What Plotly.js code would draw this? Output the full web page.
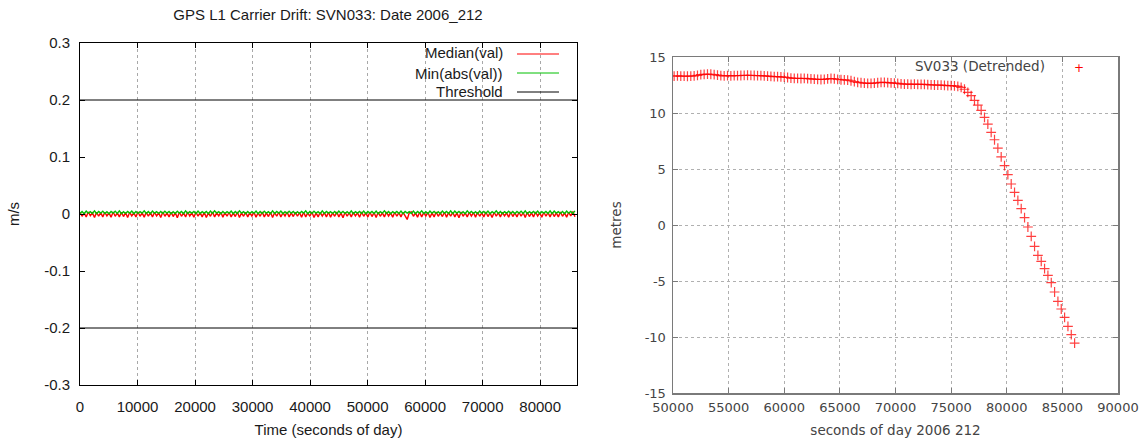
<!DOCTYPE html>
<html>
<head>
<meta charset="utf-8">
<script src="https://cdn.plot.ly/plotly-3.0.1.min.js"></script>
<style>
  html, body { margin: 0; padding: 0; background: #ffffff; }
  #chart { width: 1146px; height: 441px; }
</style>
</head>
<body>
<div id="chart"></div>
<script>
// ---------------- Left panel: GPS L1 carrier drift (m/s) ----------------
const driftStartSec = 0;       // first sample, seconds of day
const driftStepSec = 360;      // sampling interval of the arrays below

const medianVal = [
  0.003,-0.004,0.002,-0.005,0.0035,-0.003,0.002,-0.006,0.003,-0.004,
  0.0025,-0.005,0.003,-0.0035,0.002,-0.0055,0.0035,-0.004,0.002,-0.005,
  0.003,-0.0045,0.0025,-0.006,0.003,-0.0035,0.002,-0.005,0.0035,-0.004,
  0.002,-0.0055,0.003,-0.004,0.0025,-0.005,0.003,-0.0035,0.002,-0.006,
  0.0035,-0.004,0.002,-0.005,0.003,-0.0045,0.0025,-0.0065,0.003,-0.004,
  0.002,-0.005,0.0035,-0.0035,0.002,-0.0055,0.003,-0.004,0.0025,-0.005,
  0.003,-0.006,0.002,-0.004,0.0035,-0.005,0.002,-0.0035,0.003,-0.0055,
  0.0025,-0.004,0.003,-0.005,0.002,-0.0045,0.0035,-0.006,0.002,-0.004,
  0.003,-0.005,0.0025,-0.0035,0.003,-0.0055,0.002,-0.004,0.0035,-0.005,
  0.002,-0.0045,0.003,-0.006,0.0025,-0.004,0.003,-0.005,0.002,-0.0035,
  0.0035,-0.005,0.002,-0.0045,0.003,-0.004,0.0025,-0.0055,0.003,-0.005,
  0.002,-0.004,0.0035,-0.006,0.002,-0.005,0.003,-0.0035,0.0025,-0.005,
  0.003,-0.0055,0.002,-0.004,0.0035,-0.005,0.002,-0.0065,0.003,-0.004,
  0.0025,-0.005,0.003,-0.0035,0.002,-0.0055,0.0035,-0.004,0.002,-0.005,
  0.003,-0.0045,0.0025,-0.006,0.003,-0.004,0.002,-0.005,0.0035,-0.0035,
  0.002,-0.0055,0.003,-0.004,0.0025,-0.005,0.003,-0.0045,-0.0095,0.002,
  0.0035,-0.004,0.002,-0.0055,0.003,-0.005,0.0025,-0.0035,0.003,-0.006,
  0.002,-0.005,0.0035,-0.004,0.002,-0.0045,0.003,-0.0055,0.0025,-0.004,
  0.003,-0.005,0.002,-0.0065,0.0035,-0.004,0.002,-0.005,0.003,-0.0035,
  0.0025,-0.0055,0.003,-0.004,0.002,-0.005,0.0035,-0.0045,0.002,-0.006,
  0.003,-0.004,0.0025,-0.005,0.003,-0.0035,0.002,-0.0055,0.0035,-0.0045,
  0.002,-0.005,0.003,-0.004,0.0025,-0.006,0.003,-0.0045,0.002,-0.005,
  0.0035,-0.0035,0.002,-0.0055,0.003,-0.004,0.0025,-0.005,0.003,-0.0045,
  0.002,-0.005,0.0035,-0.004,0.002,-0.0055,0.003,-0.0035,0.0045,-0.005
];

const minAbsVal = [
  0.001,0.0045,0.0005,0.005,0.0015,0.004,0.001,0.0055,0.0005,0.0045,
  0.0015,0.005,0.001,0.004,0.0005,0.0045,0.0015,0.005,0.001,0.0055,
  0.0005,0.004,0.001,0.0045,0.0015,0.005,0.0005,0.0045,0.001,0.004,
  0.0015,0.0055,0.001,0.0045,0.0005,0.005,0.0015,0.004,0.001,0.0045,
  0.001,0.005,0.0015,0.0045,0.0005,0.004,0.001,0.005,0.0015,0.0045,
  0.0005,0.0055,0.001,0.004,0.0015,0.0045,0.0005,0.005,0.001,0.004,
  0.0015,0.0045,0.0005,0.005,0.001,0.0055,0.0015,0.004,0.0005,0.0045,
  0.001,0.004,0.0015,0.005,0.0005,0.0045,0.001,0.0055,0.0015,0.004,
  0.0005,0.0045,0.001,0.004,0.0015,0.005,0.0005,0.0045,0.001,0.005,
  0.0015,0.004,0.0005,0.0055,0.001,0.0045,0.0015,0.005,0.0005,0.004,
  0.001,0.005,0.0015,0.0045,0.0005,0.004,0.001,0.0045,0.0015,0.0055,
  0.0005,0.0045,0.001,0.005,0.0015,0.004,0.0005,0.0055,0.001,0.0045,
  0.0015,0.004,0.001,0.0045,0.0005,0.005,0.0015,0.0045,0.001,0.004,
  0.001,0.0055,0.0005,0.004,0.0015,0.0045,0.001,0.005,0.0005,0.0045,
  0.0015,0.0045,0.001,0.005,0.0005,0.004,0.0015,0.0055,0.001,0.0045,
  0.0005,0.004,0.0015,0.0045,0.001,0.005,0.0005,0.0045,0.0015,0.004,
  0.001,0.005,0.0005,0.0045,0.0015,0.0055,0.001,0.004,0.0005,0.005,
  0.0015,0.0045,0.001,0.004,0.0005,0.005,0.0015,0.0045,0.001,0.0055,
  0.0005,0.005,0.0015,0.0045,0.001,0.004,0.0005,0.0055,0.0015,0.0045,
  0.001,0.004,0.0005,0.005,0.0015,0.0045,0.001,0.005,0.0005,0.004,
  0.0015,0.0055,0.001,0.0045,0.0005,0.004,0.0015,0.005,0.001,0.0045,
  0.0005,0.0045,0.0015,0.005,0.001,0.0055,0.0005,0.004,0.0015,0.0045,
  0.001,0.005,0.0005,0.004,0.0015,0.0045,0.001,0.0055,0.0005,0.005,
  0.0015,0.004,0.001,0.0045,0.0005,0.005,0.0015,0.0045,0.001,0.0055
];

const thresholdValue = 0.2;
const dayRange = [0, 86400];

const leftXTickVals = [0, 10000, 20000, 30000, 40000, 50000, 60000, 70000, 80000];
const leftXTickText = ['0', '10000', '20000', '30000', '40000', '50000', '60000', '70000', '80000'];
const leftYTickVals = [-0.3, -0.2, -0.1, 0, 0.1, 0.2, 0.3];
const leftYTickText = ['-0.3', '-0.2', '-0.1', '0', '0.1', '0.2', '0.3'];
const leftLegendLabels = ['Median(val)', 'Min(abs(val))', 'Threshold'];

// ---------------- Right panel: SV033 detrended (metres) ----------------
const svStartSec = 50100;   // first plotted epoch
const svStepSec = 300;      // epoch interval
const sv033Detrended = [
  13.30,13.31,13.29,13.30,13.28,13.30,13.32,13.36,13.42,13.45,
  13.47,13.46,13.43,13.38,13.34,13.32,13.33,13.31,13.33,13.34,
  13.35,13.36,13.37,13.36,13.35,13.34,13.33,13.32,13.30,13.27,
  13.25,13.24,13.23,13.21,13.17,13.12,13.10,13.09,13.08,13.09,
  13.07,13.05,13.02,13.00,12.99,13.01,13.05,13.08,13.06,13.01,
  12.97,12.96,12.94,12.88,12.80,12.74,12.70,12.66,12.64,12.64,
  12.66,12.70,12.73,12.74,12.72,12.69,12.67,12.64,12.60,12.58,
  12.57,12.56,12.57,12.56,12.55,12.55,12.53,12.51,12.50,12.49,
  12.48,12.47,12.45,12.44,12.42,12.38,12.29,12.12,11.85,11.55,
  11.13,10.71,10.24,9.61,9.01,8.27,7.61,6.87,6.09,5.30,
  4.49,3.66,2.92,2.20,1.46,0.65,-0.18,-1.01,-1.90,-2.71,
  -3.24,-3.90,-4.49,-5.15,-5.98,-6.82,-7.50,-8.24,-9.05,-9.79,
  -10.54
];
const svLabel = 'SV033 (Detrended)';

const rightXTickVals = [50000, 55000, 60000, 65000, 70000, 75000, 80000, 85000, 90000];
const rightXTickText = ['50000', '55000', '60000', '65000', '70000', '75000', '80000', '85000', '90000'];
const rightYTickVals = [-15, -10, -5, 0, 5, 10, 15];
const rightYTickText = ['-15', '-10', '-5', '0', '5', '10', '15'];

// ---------------- Styles ----------------
const W = 1146, H = 441;
const px = v => v / W;
const py = v => 1 - v / H;
const leftFont = 'Liberation Sans, Arial, sans-serif';
const rightFont = 'DejaVu Sans, sans-serif';
const leftText = '#1a1a1a';
const rightText = '#444444';
const RED = '#ff0000';
const GREEN = '#00c000';

const traces = [
  {
    type: 'scatter', mode: 'lines', name: leftLegendLabels[0],
    x0: driftStartSec, dx: driftStepSec, y: medianVal,
    xaxis: 'x', yaxis: 'y',
    line: { color: RED, width: 1.4 }, showlegend: false, hoverinfo: 'skip'
  },
  {
    type: 'scatter', mode: 'lines', name: leftLegendLabels[1],
    x0: driftStartSec, dx: driftStepSec, y: minAbsVal,
    xaxis: 'x', yaxis: 'y',
    line: { color: GREEN, width: 1.4 }, showlegend: false, hoverinfo: 'skip'
  },
  {
    type: 'scatter', mode: 'lines', name: leftLegendLabels[2],
    x: dayRange, y: [thresholdValue, thresholdValue],
    xaxis: 'x', yaxis: 'y',
    line: { color: '#000000', width: 1 }, showlegend: false, hoverinfo: 'skip'
  },
  {
    type: 'scatter', mode: 'lines', name: leftLegendLabels[2],
    x: dayRange, y: [-thresholdValue, -thresholdValue],
    xaxis: 'x', yaxis: 'y',
    line: { color: '#000000', width: 1 }, showlegend: false, hoverinfo: 'skip'
  },
  {
    type: 'scatter', mode: 'markers', name: svLabel,
    x0: svStartSec, dx: svStepSec, y: sv033Detrended,
    xaxis: 'x2', yaxis: 'y2',
    marker: { symbol: 'cross-thin', size: 7, color: RED, line: { color: 'rgba(255,0,0,0.75)', width: 1.2 } },
    showlegend: false, hoverinfo: 'skip'
  }
];

const leftAxisCommon = {
  showline: true, linecolor: '#000000', linewidth: 1, mirror: 'allticks',
  ticks: 'inside', ticklen: 5, tickcolor: '#000000', tickwidth: 1,
  zeroline: false, tickmode: 'array',
  tickfont: { family: leftFont, size: 15, color: leftText }
};
const rightAxisCommon = {
  showline: true, linecolor: '#7a7a7a', linewidth: 1.5, mirror: 'allticks',
  ticks: 'inside', ticklen: 5, tickcolor: '#7a7a7a', tickwidth: 1,
  zeroline: false, tickmode: 'array',
  showgrid: true, gridcolor: '#b0b0b0', gridwidth: 1, griddash: 'dot',
  tickfont: { family: rightFont, size: 13, color: rightText }
};

const layout = {
  width: W, height: H,
  margin: { l: 0, r: 0, t: 0, b: 0 },
  paper_bgcolor: '#ffffff', plot_bgcolor: '#ffffff',
  showlegend: false,
  title: {
    text: 'GPS L1 Carrier Drift: SVN033: Date 2006_212',
    x: px(328), xanchor: 'center', xref: 'paper',
    y: py(15), yanchor: 'middle', yref: 'paper',
    font: { family: leftFont, size: 15, color: leftText }
  },
  xaxis: Object.assign({}, leftAxisCommon, {
    domain: [px(80), px(577)], anchor: 'y',
    range: dayRange, tickvals: leftXTickVals, ticktext: leftXTickText,
    ticklabelstandoff: 8,
    showgrid: true, gridcolor: '#a8a8a8', gridwidth: 1, griddash: 'dot',
    title: { text: 'Time (seconds of day)', standoff: 10, font: { family: leftFont, size: 15, color: leftText } }
  }),
  yaxis: Object.assign({}, leftAxisCommon, {
    domain: [1 - 385 / H, 1 - 43 / H], anchor: 'x',
    range: [-0.3, 0.3], tickvals: leftYTickVals, ticktext: leftYTickText,
    ticklabelstandoff: 6,
    showgrid: false,
    title: { text: 'm/s', standoff: 20, font: { family: leftFont, size: 15, color: leftText } }
  }),
  xaxis2: Object.assign({}, rightAxisCommon, {
    domain: [px(673), px(1118)], anchor: 'y2',
    range: [50000, 90000], tickvals: rightXTickVals, ticktext: rightXTickText,
    ticklabelstandoff: 2,
    title: { text: 'seconds of day 2006 212', standoff: 11, font: { family: rightFont, size: 13.5, color: rightText } }
  }),
  yaxis2: Object.assign({}, rightAxisCommon, {
    domain: [1 - 393 / H, 1 - 57 / H], anchor: 'x2',
    range: [-15, 15], tickvals: rightYTickVals, ticktext: rightYTickText,
    ticklabelstandoff: 3,
    title: { text: 'metres', standoff: 20, font: { family: rightFont, size: 13.5, color: rightText } }
  }),
  annotations: [
    { xref: 'paper', yref: 'paper', x: px(505), y: py(53), xanchor: 'right', yanchor: 'middle',
      text: leftLegendLabels[0], showarrow: false, font: { family: leftFont, size: 15, color: leftText } },
    { xref: 'paper', yref: 'paper', x: px(505), y: py(73), xanchor: 'right', yanchor: 'middle',
      text: leftLegendLabels[1], showarrow: false, font: { family: leftFont, size: 15, color: leftText } },
    { xref: 'paper', yref: 'paper', x: px(505), y: py(92), xanchor: 'right', yanchor: 'middle',
      text: leftLegendLabels[2], showarrow: false, font: { family: leftFont, size: 15, color: leftText } },
    { xref: 'paper', yref: 'paper', x: px(1047), y: py(66), xanchor: 'right', yanchor: 'middle',
      text: svLabel, showarrow: false, font: { family: rightFont, size: 13.5, color: rightText } },
    { xref: 'paper', yref: 'paper', x: px(1079), y: py(68), xanchor: 'center', yanchor: 'middle',
      text: '+', showarrow: false, font: { family: rightFont, size: 12, color: RED } }
  ],
  shapes: [
    { type: 'line', xref: 'paper', yref: 'paper', x0: px(517), x1: px(559), y0: py(54), y1: py(54),
      line: { color: RED, width: 1 } },
    { type: 'line', xref: 'paper', yref: 'paper', x0: px(517), x1: px(559), y0: py(73), y1: py(73),
      line: { color: GREEN, width: 1 } },
    { type: 'line', xref: 'paper', yref: 'paper', x0: px(517), x1: px(559), y0: py(92), y1: py(92),
      line: { color: '#000000', width: 1 } }
  ]
};

Plotly.newPlot('chart', traces, layout, { staticPlot: true, displayModeBar: false });
</script>
</body>
</html>
